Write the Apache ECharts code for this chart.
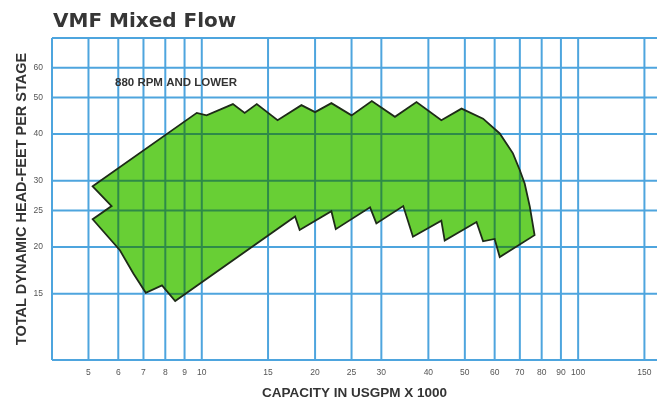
<!DOCTYPE html>
<html><head><meta charset="utf-8">
<script src="https://cdn.jsdelivr.net/npm/echarts@6/dist/echarts.min.js"></script>
<style>html,body{margin:0;padding:0;background:#fff}#c{width:657px;height:402px}</style>
</head><body><div id="c"></div>
<script>
// Tick / grid values (USGPM x 1000 and feet)
const xTicks = [5, 6, 7, 8, 9, 10, 15, 20, 25, 30, 40, 50, 60, 70, 80, 90, 100, 150];
const yTicks = [15, 20, 25, 30, 40, 50, 60];
const xRange = [4, 162];
const yRange = [10, 72];

// Envelope of the 880 RPM and lower coverage area (clockwise)
const envelopeCapacity = [
  5.13, 9.7, 10.3, 12.1, 13.0, 14.0, 15.9, 18.4, 20.0, 22.1, 25.0, 28.3, 32.6, 37.2, 43.3, 49.0,
  55.9, 61.9, 67.1, 70.0, 72.1, 74.4, 76.6,
  61.9, 60.0, 55.9, 53.7, 44.2, 43.3, 36.4, 34.3, 29.1, 28.0, 22.7, 22.1, 18.2, 17.7,
  8.5, 7.84, 7.1, 6.58, 6.06, 5.13, 5.76
];
const envelopeHead = [
  29.0, 45.5, 44.8, 48.0, 45.5, 48.0, 43.5, 47.7, 45.7, 48.3, 44.8, 48.9, 44.4, 48.6, 43.5, 46.7,
  43.9, 40.1, 35.5, 32.0, 29.5, 25.6, 21.5,
  18.8, 21.0, 20.7, 23.3, 20.8, 23.5, 21.3, 25.7, 23.1, 25.5, 22.3, 24.9, 22.2, 24.1,
  14.35, 15.8, 15.1, 17.0, 19.6, 23.7, 25.7
];

const gridColor = '#4ea5de';
const gridInGreen = '#2e8a48';
const chart = echarts.init(document.getElementById('c'), null, {renderer: 'canvas'});

// segments of the line (axis: 0 = vertical at coordinate c, 1 = horizontal) inside polygon pts
function insideSegments(pts, axis, c) {
  const hits = [];
  const o = 1 - axis;
  for (let i = 0; i < pts.length; i++) {
    const p = pts[i], q = pts[(i + 1) % pts.length];
    const a = p[axis], b = q[axis];
    if ((a <= c && c < b) || (b <= c && c < a)) {
      hits.push(p[o] + (c - a) * (q[o] - p[o]) / (b - a));
    }
  }
  hits.sort((m, n) => m - n);
  const segs = [];
  for (let i = 0; i + 1 < hits.length; i += 2) segs.push([hits[i], hits[i + 1]]);
  return segs;
}

function renderAll(params, api) {
  if (params.dataIndex !== 0) return;
  const children = [];
  const lo = api.coord([xRange[0], yRange[0]]);
  const hi = api.coord([xRange[1], yRange[1]]);
  const pts = envelopeCapacity.map((c, i) => api.coord([c, envelopeHead[i]]));
  const line = (x1, y1, x2, y2, color, z2) => ({
    type: 'line', z2, shape: {x1, y1, x2, y2},
    style: {stroke: color, lineWidth: 2}
  });
  const xs = [xRange[0]].concat(xTicks).map(v => api.coord([v, yRange[0]])[0]);
  const ys = [yRange[0]].concat(yTicks, [yRange[1]]).map(v => api.coord([xRange[0], v])[1]);
  xs.forEach(x => children.push(line(x, lo[1], x, hi[1], gridColor, 0)));
  ys.forEach(y => children.push(line(lo[0], y, hi[0], y, gridColor, 0)));
  children.push({type: 'polygon', z2: 1, shape: {points: pts}, style: {fill: '#68cf35', stroke: null}});
  xs.forEach(x => insideSegments(pts, 0, x).forEach(s => children.push(line(x, s[0], x, s[1], gridInGreen, 2))));
  ys.forEach(y => insideSegments(pts, 1, y).forEach(s => children.push(line(s[0], y, s[1], y, gridInGreen, 2))));
  children.push({type: 'polygon', z2: 3, shape: {points: pts},
                 style: {fill: null, stroke: '#1e2b18', lineWidth: 1.8, lineJoin: 'miter'}});
  return {type: 'group', children};
}

chart.setOption({
  animation: false,
  backgroundColor: '#fff',
  title: [
    {text: 'VMF Mixed Flow', left: 48, top: 7,
     textStyle: {fontFamily: 'DejaVu Sans', fontWeight: 'bold', fontSize: 20, color: '#363636'}},
    {text: '880 RPM AND LOWER', left: 110, top: 72,
     textStyle: {fontFamily: 'Liberation Sans', fontWeight: 'bold', fontSize: 11.5, color: '#333'}}
  ],
  grid: {left: 52, top: 38, right: 0, bottom: 42, containLabel: false, outerBoundsMode: 'none'},
  xAxis: {
    type: 'log', logBase: 10, min: xRange[0], max: xRange[1],
    name: 'CAPACITY IN USGPM X 1000', nameLocation: 'middle', nameGap: 26, nameMoveOverlap: false,
    nameTextStyle: {fontFamily: 'Liberation Sans', fontWeight: 'bold', fontSize: 13.5, color: '#333'},
    axisLine: {show: false}, axisTick: {show: false}, splitLine: {show: false}, minorSplitLine: {show: false},
    axisLabel: {customValues: xTicks, fontFamily: 'Liberation Sans', fontSize: 8.5, color: '#555', margin: 8,
                formatter: v => String(Math.round(v))}
  },
  yAxis: {
    type: 'log', logBase: 10, min: yRange[0], max: yRange[1],
    name: 'TOTAL DYNAMIC HEAD-FEET PER STAGE', nameLocation: 'middle', nameGap: 23, nameRotate: 90,
    nameMoveOverlap: false,
    nameTextStyle: {fontFamily: 'Liberation Sans', fontWeight: 'bold', fontSize: 14.5, color: '#333'},
    axisLine: {show: false}, axisTick: {show: false}, splitLine: {show: false}, minorSplitLine: {show: false},
    axisLabel: {customValues: yTicks, fontFamily: 'Liberation Sans', fontSize: 8.5, color: '#555', margin: 9,
                formatter: v => String(Math.round(v))}
  },
  series: [
    {type: 'custom', renderItem: renderAll, silent: true,
     data: envelopeCapacity.map((c, i) => [c, envelopeHead[i]])}
  ]
});
</script></body></html>
